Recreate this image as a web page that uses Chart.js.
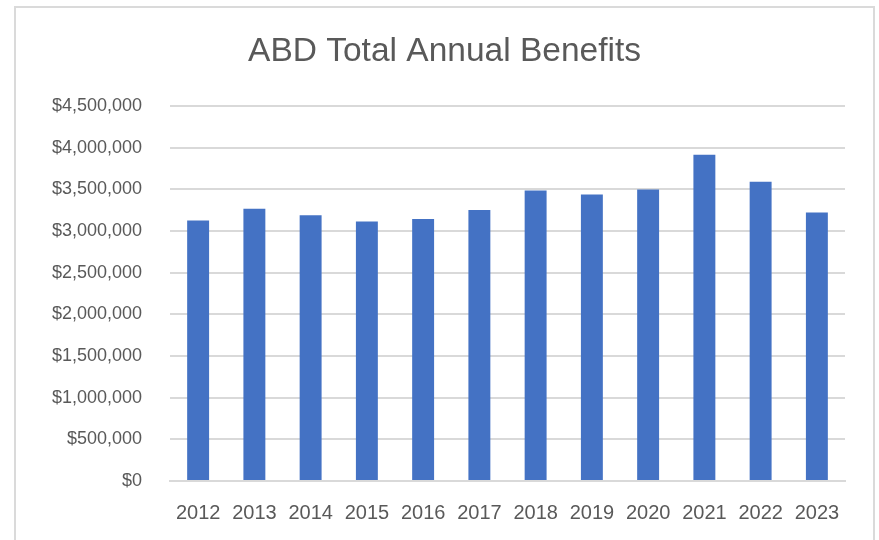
<!DOCTYPE html>
<html>
<head>
<meta charset="utf-8">
<script src="https://cdn.jsdelivr.net/npm/chart.js@4"></script>
<style>
  body{ margin:0; background:#fff; overflow:hidden; }
  #frame{ position:absolute; left:14px; top:6px; width:861px; height:600px; border:2px solid #dadada; box-sizing:border-box; }
  #wrap{ position:absolute; left:0; top:0; width:879px; height:540px; }
</style>
</head>
<body>
<div id="frame"></div>
<div id="wrap"><canvas id="benefits"></canvas></div>
<script>
// ----- data -----
const years = ["2012","2013","2014","2015","2016","2017","2018","2019","2020","2021","2022","2023"];
const totalBenefits = [3129000, 3270000, 3190000, 3117000, 3145000, 3253000, 3488000, 3440000, 3500000, 3917000, 3592000, 3225000];
const yTicks = [0, 500000, 1000000, 1500000, 2000000, 2500000, 3000000, 3500000, 4000000, 4500000];

const textColor = "#595959";
const gridColor = "#d9d9d9";

function money(v){ return "$" + Number(v).toLocaleString("en-US"); }

new Chart(document.getElementById("benefits").getContext("2d"), {
  type: "bar",
  data: {
    labels: years,
    datasets: [{
      label: "Total Annual Benefits",
      data: totalBenefits,
      backgroundColor: "#4472c4",
      categoryPercentage: 1,
      barPercentage: 0.39
    }]
  },
  options: {
    responsive: true,
    maintainAspectRatio: false,
    animation: false,
    // left padding keeps the title centred on the frame
    layout: { padding: { left: 10, right: 0, top: 0, bottom: 15 } },
    plugins: {
      legend: { display: false },
      tooltip: { enabled: false },
      title: {
        display: true,
        text: "ABD Total Annual Benefits",
        color: textColor,
        font: { family: "Liberation Sans", size: 33.5, weight: "normal" },
        padding: { top: 32, bottom: 34 }
      }
    },
    scales: {
      x: {
        afterFit: (s) => { s.height = 44; },
        grid: { display: false, drawTicks: false },
        border: { display: true, color: gridColor, width: 2 },
        ticks: { color: textColor, padding: 20, maxRotation: 0, font: { family: "Liberation Sans", size: 20 } }
      },
      y: {
        min: 0,
        max: 4500000,
        afterBuildTicks: (s) => { s.ticks = yTicks.map(v => ({ value: v })); },
        afterFit: (s) => { s.width = 160; },
        grid: { color: gridColor, lineWidth: 2, drawTicks: false },
        border: { display: false },
        ticks: { color: textColor, padding: 28, callback: (v) => money(v), font: { family: "Liberation Sans", size: 18 } }
      },
      // empty spacer on the right
      yRight: {
        position: "right",
        min: 0,
        max: 4500000,
        afterFit: (s) => { s.width = 34; },
        grid: { display: false, drawTicks: false },
        border: { display: false },
        ticks: { display: false }
      }
    }
  }
});
</script>
</body>
</html>
